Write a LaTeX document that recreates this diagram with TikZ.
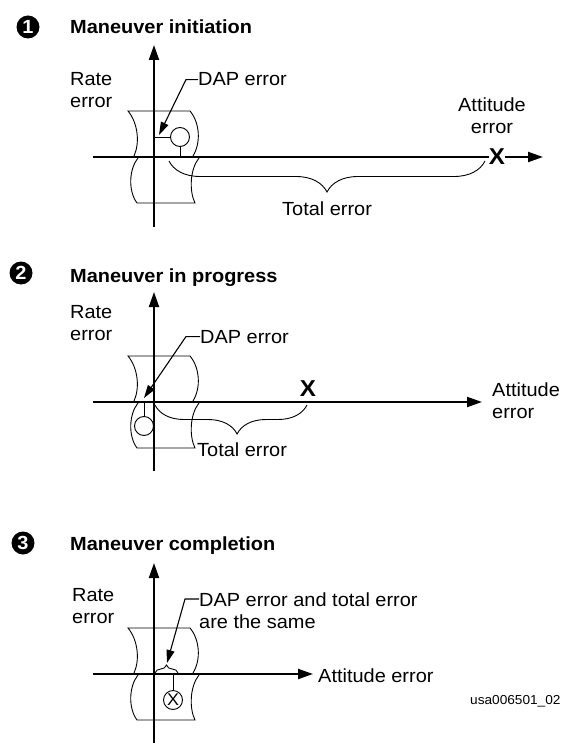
\documentclass[tikz,border=0pt]{standalone}
\usepackage{fontspec}
\setmainfont{Liberation Sans}[FakeStretch=1.05]
\usetikzlibrary{arrows.meta, decorations.pathreplacing, positioning}

\newcommand{\txtsize}{\fontsize{19}{22}\selectfont}
\newcommand{\ttlsize}{\fontsize{19}{22}\selectfont\bfseries}
\newcommand{\numsize}{\fontsize{19}{19}\selectfont\bfseries}
\newcommand{\xsize}{\fontsize{23}{23}\selectfont\bfseries}
\newcommand{\tagsize}{\fontsize{13}{13}\selectfont}

\begin{document}
\begin{tikzpicture}[
			x=1pt, y=-1pt,
			nodes = {
				inner sep=0pt,
				font=\txtsize
			},
			badge/.style={
				circle,
				fill=black,
				text=white,
				minimum size=23pt,
				font=\numsize
			},
			heading/.style={
				anchor=base west,
				font=\ttlsize
			},
			caption/.style={
				anchor=base west
			},
			twoline/.style={
				align=left,
				anchor=north west
			},
			axisline/.style={
				line width=2pt,
				-{Triangle[length=15pt,width=10pt]}
			},
			outline/.style={
				line width=0.9pt
			},
			leader/.style={
				line width=1.1pt,
				-{Triangle[length=13pt,width=8pt]}
			},
			marker/.style={
				circle,
				draw,
				line width=0.9pt,
				minimum size=19pt
			},
			target/.style={
				font=\xsize,
				fill=white
			},
			brcdown/.style={
				outline,
				decorate,
				decoration={brace, mirror, amplitude=#1}
			},
			brcup/.style={
				outline,
				decorate,
				decoration={brace, amplitude=#1}
			},
			brk/.pic={
				\draw[outline] (-20,-1) .. controls (-14,-14) and (-16,-34) .. (-26,-46)
					-- (36,-46) .. controls (46,-34) and (47,-14) .. (39,-1);
				\draw[outline] (-16,1) .. controls (-25,12) and (-26,34) .. (-17,46)
					-- (41,46) .. controls (35,34) and (36,12) .. (45,1);
			}
		]
			\useasboundingbox (0,0) rectangle (562,743);

			% 1
			\node[badge] (n1) at (28,27) {1};
			\node[heading] (h1) at (70,34) {Maneuver initiation};
			\coordinate (o1) at (154,157);
			\pic at (o1) {brk};
			\coordinate (y1s) at (154,227);
			\coordinate (y1e) at (154,45);
			\coordinate (x1s) at (93,157);
			\coordinate (x1e) at (543,157);
			\draw[axisline] (y1s) -- (y1e);
			\draw[axisline] (x1s) -- (x1e);

			\node[twoline] (r1) at (70,72) {Rate\\error};
			\node[caption] (d1) at (198,86) {DAP error};
			\node[marker] (m1) at (180,137) {};
			\draw[outline] (m1.west -| o1) -- (m1.west);
			\draw[outline] (m1.south) -- (m1.south |- o1);
			\coordinate (t1) at (159,135);
			\draw[leader] (d1.west) -- ++(-12,0) -- (t1);

			\node[target] (e1) at (497,157) {X};
			\node[align=center, anchor=north] (a1) at (492,98) {Attitude\\error};
			\coordinate (b1l) at (169,161);
			\coordinate (b1r) at (485,161);
			\draw[brcdown=31pt] (b1l) -- (b1r);
			\node[caption] (s1) at (282,215) {Total error};

			% 2
			\node[badge] (n2) at (21,273) {2};
			\node[heading] (h2) at (70,282) {Maneuver in progress};
			\coordinate (o2) at (154,402);
			\pic at (o2) {brk};
			\coordinate (y2s) at (154,471);
			\coordinate (y2e) at (154,292);
			\coordinate (x2s) at (93,402);
			\coordinate (x2e) at (482,402);
			\draw[axisline] (y2s) -- (y2e);
			\draw[axisline] (x2s) -- (x2e);

			\node[twoline] (r2) at (70,305) {Rate\\error};
			\node[caption] (d2) at (200,343) {DAP error};
			\node[marker] (m2) at (144,426) {};
			\draw[outline] (m2.north) -- (m2.north |- o2);
			\coordinate (t2) at (144,398);
			\draw[leader] (d2.west) -- ++(-14,0) -- (t2);

			\node[target, anchor=base] (e2) at (308,396) {X};
			\node[twoline] (a2) at (492,383) {Attitude\\error};
			\coordinate (b2l) at (155,405);
			\coordinate (b2r) at (307,405);
			\draw[brcdown=29pt, decoration={aspect=0.54}] (b2l) -- (b2r);
			\node[caption] (s2) at (197,456) {Total error};

			% 3
			\node[badge] (n3) at (23,543) {3};
			\node[heading] (h3) at (70,550) {Maneuver completion};
			\coordinate (o3) at (154,674);
			\pic at (o3) {brk};
			\coordinate (y3s) at (154,743);
			\coordinate (y3e) at (154,563);
			\coordinate (x3s) at (93,674);
			\coordinate (x3e) at (313,674);
			\draw[axisline] (y3s) -- (y3e);
			\draw[axisline] (x3s) -- (x3e);

			\node[twoline] (r3) at (72,588) {Rate\\error};
			\node[twoline] (d3) at (199,593) {DAP error and total error\\are the same};
			\node[caption] (a3) at (318,682) {Attitude error};
			\node[marker, font=\fontsize{17}{17}\selectfont] (m3) at (173,700) {X};
			\draw[outline] (m3.north) -- (m3.north |- o3);
			\coordinate (b3l) at (155,673);
			\coordinate (b3r) at (178,673);
			\draw[brcup=8pt] (b3l) -- (b3r);
			\coordinate (t3) at (167,663);
			\draw[leader] ([yshift=-6pt]d3.north west) -- ++(-14,0) -- (t3);

			\node[anchor=base west, font=\tagsize] (tag) at (470,704) {usa006501\_02};

		\end{tikzpicture}
\end{document}
